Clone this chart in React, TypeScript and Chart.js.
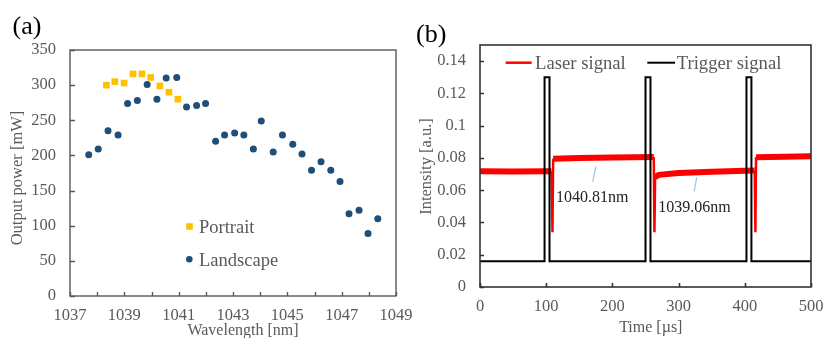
import React, { useEffect, useRef } from 'react';
import { Chart, registerables } from 'chart.js';

Chart.register(...registerables);

const FONT = '"Liberation Serif", "Times New Roman", serif';
const GRAY = '#595959';

// ---------- Panel (a): output power vs wavelength ----------
const landscapeWavelength = [1037.69, 1038.04, 1038.4, 1038.77, 1039.12, 1039.48, 1039.84, 1040.2, 1040.54, 1040.93, 1041.29, 1041.66, 1041.99, 1042.36, 1042.69, 1043.06, 1043.4, 1043.75, 1044.04, 1044.48, 1044.82, 1045.2, 1045.54, 1045.89, 1046.24, 1046.6, 1046.94, 1047.27, 1047.64, 1047.97, 1048.33];
const landscapePower = [201, 209, 235, 229, 274, 278, 301, 280, 310, 311, 269, 271, 274, 220, 229, 232, 229, 209, 249, 205, 229, 216, 202, 179, 191, 179, 163, 117, 122, 89, 110];
const portraitWavelength = [1038.34, 1038.65, 1038.99, 1039.32, 1039.65, 1039.97, 1040.31, 1040.64, 1040.97];
const portraitPower = [300, 305, 303, 316, 316, 311, 299, 290, 280];
const wavelengthRange = [1037, 1049];
const wavelengthTicks = [1037, 1038, 1039, 1040, 1041, 1042, 1043, 1044, 1045, 1046, 1047, 1048, 1049];
const powerRange = [0, 350];
const powerTicks = [0, 50, 100, 150, 200, 250, 300, 350];
const seriesNamesA = ['Portrait', 'Landscape'];
const axisTitlesA = ['Wavelength [nm]', 'Output power [mW]'];

// ---------- Panel (b): intensity vs time ----------
const laserTime = [0, 50, 100, 108, 109.5, 110.5, 150, 200, 262.5, 263.5, 264.5, 270, 300, 350, 400, 415, 416, 417, 460, 500];
const laserIntensity = [0.0717, 0.0716, 0.0717, 0.0717, 0.0339, 0.0795, 0.08, 0.0802, 0.0806, 0.0339, 0.068, 0.0695, 0.0707, 0.0714, 0.072, 0.0722, 0.0339, 0.0805, 0.0808, 0.081];
const triggerTime = [0, 97.5, 97.5, 105, 105, 250, 250, 257.5, 257.5, 402.5, 402.5, 410, 410, 500];
const triggerIntensity = [0.016, 0.016, 0.13, 0.13, 0.016, 0.016, 0.13, 0.13, 0.016, 0.016, 0.13, 0.13, 0.016, 0.016];
const timeRange = [0, 500];
const timeTicks = [0, 100, 200, 300, 400, 500];
const intensityRange = [0, 0.15];
const intensityTicks = [0, 0.02, 0.04, 0.06, 0.08, 0.1, 0.12, 0.14];
const seriesNamesB = ['Laser signal', 'Trigger signal'];
const axisTitlesB = ['Time [\u00b5s]', 'Intensity [a.u.]'];
const annotationText = ['1040.81nm', '1039.06nm'];
const annotationTextX = [114.8, 269.3];
const annotationTextY = [0.0529, 0.0462];
const leaderStartX = [174.8, 327.3];
const leaderStartY = [0.0745, 0.0679];
const leaderEndX = [170.2, 323.7];
const leaderEndY = [0.0652, 0.0594];

const toPoints = (xs: number[], ys: number[]) => xs.map((x, i) => ({ x, y: ys[i] }));
const setTicks = (values: number[]) => (s: any) => {
  s.ticks = values.map((v) => ({ value: v }));
};

const panelAPlugin = {
  id: 'panelA',
  afterDraw(chart: any) {
    const { ctx, chartArea: a, scales } = chart;
    const x = scales.x;
    const y = scales.y;
    ctx.save();
    ctx.strokeStyle = GRAY;
    ctx.lineWidth = 1.4;
    ctx.beginPath();
    x.ticks.forEach((t: any) => {
      const px = Math.round(x.getPixelForValue(t.value)) + 0.5;
      ctx.moveTo(px, a.bottom);
      ctx.lineTo(px, a.bottom - 4);
    });
    y.ticks.forEach((t: any) => {
      const py = Math.round(y.getPixelForValue(t.value)) + 0.5;
      ctx.moveTo(a.left, py);
      ctx.lineTo(a.left + 5, py);
    });
    ctx.stroke();
    ctx.strokeRect(a.left, a.top, a.right - a.left, a.bottom - a.top);

    // axis titles
    ctx.fillStyle = GRAY;
    ctx.font = `16px ${FONT}`;
    ctx.textAlign = 'center';
    ctx.textBaseline = 'alphabetic';
    ctx.fillText(axisTitlesA[0], 243, 334.5);
    ctx.save();
    ctx.translate(17.5, 178);
    ctx.rotate(-Math.PI / 2);
    ctx.font = `16.5px ${FONT}`;
    ctx.textBaseline = 'middle';
    ctx.fillText(axisTitlesA[1], 0, 0);
    ctx.restore();

    // panel label
    ctx.fillStyle = '#000';
    ctx.font = `26px ${FONT}`;
    ctx.textAlign = 'left';
    ctx.textBaseline = 'alphabetic';
    ctx.fillText('(a)', 12.5, 33.5);

    // legend
    ctx.fillStyle = '#FFC000';
    ctx.fillRect(186.2, 223.2, 6.6, 6.6);
    ctx.fillStyle = '#1F4E79';
    ctx.beginPath();
    ctx.arc(189.3, 259.3, 3.3, 0, Math.PI * 2);
    ctx.fill();
    ctx.fillStyle = GRAY;
    ctx.font = `18.5px ${FONT}`;
    ctx.fillText(seriesNamesA[0], 199, 233.3);
    ctx.fillText(seriesNamesA[1], 199, 266);
    ctx.restore();
  },
};

const panelBPlugin = {
  id: 'panelB',
  afterDraw(chart: any) {
    const { ctx, chartArea: a, scales } = chart;
    const x = scales.x;
    const y = scales.y;
    ctx.save();
    ctx.strokeStyle = '#333';
    ctx.lineWidth = 1.6;
    ctx.beginPath();
    x.ticks.forEach((t: any) => {
      const px = Math.round(x.getPixelForValue(t.value)) + 0.5;
      ctx.moveTo(px, a.bottom);
      ctx.lineTo(px, a.bottom - 4);
    });
    y.ticks.forEach((t: any) => {
      const py = Math.round(y.getPixelForValue(t.value)) + 0.5;
      ctx.moveTo(a.left, py);
      ctx.lineTo(a.left + 4, py);
    });
    ctx.stroke();
    ctx.strokeRect(a.left, a.top, a.right - a.left, a.bottom - a.top);

    // annotations
    ctx.strokeStyle = '#9DC3E6';
    ctx.lineWidth = 1.2;
    ctx.beginPath();
    for (let i = 0; i < annotationText.length; i++) {
      ctx.moveTo(x.getPixelForValue(leaderStartX[i]), y.getPixelForValue(leaderStartY[i]));
      ctx.lineTo(x.getPixelForValue(leaderEndX[i]), y.getPixelForValue(leaderEndY[i]));
    }
    ctx.stroke();
    ctx.fillStyle = '#222';
    ctx.font = `16px ${FONT}`;
    ctx.textAlign = 'left';
    ctx.textBaseline = 'alphabetic';
    for (let i = 0; i < annotationText.length; i++) {
      ctx.fillText(annotationText[i], x.getPixelForValue(annotationTextX[i]), y.getPixelForValue(annotationTextY[i]));
    }

    // legend
    ctx.lineWidth = 2.5;
    ctx.strokeStyle = '#FF0000';
    ctx.beginPath();
    ctx.moveTo(93.7, 62.7);
    ctx.lineTo(119.7, 62.7);
    ctx.stroke();
    ctx.strokeStyle = '#000';
    ctx.lineWidth = 2;
    ctx.beginPath();
    ctx.moveTo(235.3, 62.7);
    ctx.lineTo(263, 62.7);
    ctx.stroke();
    ctx.fillStyle = GRAY;
    ctx.font = `18.7px ${FONT}`;
    ctx.fillText(seriesNamesB[0], 123, 69);
    ctx.fillText(seriesNamesB[1], 264.7, 69);

    // axis titles
    ctx.font = `16px ${FONT}`;
    ctx.textAlign = 'center';
    ctx.fillText(axisTitlesB[0], 238.8, 331.7);
    ctx.save();
    ctx.translate(15, 166.5);
    ctx.rotate(-Math.PI / 2);
    ctx.font = `16.5px ${FONT}`;
    ctx.textBaseline = 'middle';
    ctx.fillText(axisTitlesB[1], 0, 0);
    ctx.restore();

    // panel label
    ctx.fillStyle = '#000';
    ctx.font = `26px ${FONT}`;
    ctx.textAlign = 'left';
    ctx.textBaseline = 'alphabetic';
    ctx.fillText('(b)', 4, 42);
    ctx.restore();
  },
};

const tickFont = { family: FONT, size: 16.5 };

function PanelA() {
  const ref = useRef<HTMLCanvasElement>(null);
  useEffect(() => {
    const chart = new Chart(ref.current!, {
      type: 'scatter',
      data: {
        datasets: [
          {
            label: seriesNamesA[0],
            data: toPoints(portraitWavelength, portraitPower),
            pointStyle: 'rect',
            pointRadius: 4.7,
            pointBackgroundColor: '#FFC000',
            pointBorderWidth: 0,
            borderColor: '#FFC000',
            backgroundColor: '#FFC000',
          },
          {
            label: seriesNamesA[1],
            data: toPoints(landscapeWavelength, landscapePower),
            pointStyle: 'circle',
            pointRadius: 3.5,
            pointBackgroundColor: '#1F4E79',
            pointBorderWidth: 0,
            borderColor: '#1F4E79',
            backgroundColor: '#1F4E79',
          },
        ],
      },
      options: {
        responsive: false,
        animation: false,
        events: [],
        layout: { padding: { top: 50, right: 16, left: 0, bottom: 0 } },
        plugins: { legend: { display: false }, tooltip: { enabled: false } },
        scales: {
          x: {
            type: 'linear',
            min: wavelengthRange[0],
            max: wavelengthRange[1],
            afterBuildTicks: setTicks(wavelengthTicks),
            grid: { display: false, drawTicks: false },
            border: { display: false },
            ticks: {
              autoSkip: false,
              maxRotation: 0,
              padding: 10,
              color: GRAY,
              font: tickFont,
              callback: (v: any) => (Number(v) % 2 === 1 ? String(v) : ''),
            },
            afterFit: (s: any) => {
              s.height = 42;
              s.paddingLeft = 0;
              s.paddingRight = 0;
            },
          },
          y: {
            type: 'linear',
            min: powerRange[0],
            max: powerRange[1],
            afterBuildTicks: setTicks(powerTicks),
            grid: { display: false, drawTicks: false },
            border: { display: false },
            ticks: { padding: 14, color: GRAY, font: tickFont },
            afterFit: (s: any) => {
              s.width = 70;
              s.paddingTop = 0;
              s.paddingBottom = 0;
            },
          },
        },
      },
      plugins: [panelAPlugin],
    } as any);
    return () => chart.destroy();
  }, []);
  return <canvas ref={ref} width={412} height={338} style={{ position: 'absolute', left: 0, top: 0, width: 412, height: 338 }} />;
}

function PanelB() {
  const ref = useRef<HTMLCanvasElement>(null);
  useEffect(() => {
    const chart = new Chart(ref.current!, {
      type: 'scatter',
      data: {
        datasets: [
          {
            label: seriesNamesB[0],
            data: toPoints(laserTime, laserIntensity),
            showLine: true,
            pointRadius: 0,
            borderColor: '#FF0000',
            backgroundColor: '#FF0000',
            borderWidth: 6,
            borderCapStyle: 'butt',
            borderJoinStyle: 'miter',
            order: 2,
            segment: {
              borderWidth: (c: any) => (Math.abs(c.p1.parsed.x - c.p0.parsed.x) < 2 ? 2.5 : 6),
            },
          },
          {
            label: seriesNamesB[1],
            data: toPoints(triggerTime, triggerIntensity),
            showLine: true,
            pointRadius: 0,
            borderColor: '#000000',
            backgroundColor: '#000000',
            borderWidth: 2,
            borderJoinStyle: 'miter',
            order: 1,
          },
        ],
      },
      options: {
        responsive: false,
        animation: false,
        events: [],
        layout: { padding: { top: 45, right: 13, left: 0, bottom: 0 } },
        plugins: { legend: { display: false }, tooltip: { enabled: false } },
        scales: {
          x: {
            type: 'linear',
            min: timeRange[0],
            max: timeRange[1],
            afterBuildTicks: setTicks(timeTicks),
            grid: { display: false, drawTicks: false },
            border: { display: false },
            ticks: { autoSkip: false, maxRotation: 0, padding: 10, color: GRAY, font: tickFont },
            afterFit: (s: any) => {
              s.height = 51;
              s.paddingLeft = 0;
              s.paddingRight = 0;
            },
          },
          y: {
            type: 'linear',
            min: intensityRange[0],
            max: intensityRange[1],
            afterBuildTicks: setTicks(intensityTicks),
            grid: { display: false, drawTicks: false },
            border: { display: false },
            ticks: {
              autoSkip: false,
              padding: 14,
              color: GRAY,
              font: tickFont,
              callback: (v: any) => String(Math.round(Number(v) * 100) / 100),
            },
            afterFit: (s: any) => {
              s.width = 68;
              s.paddingTop = 0;
              s.paddingBottom = 0;
            },
          },
        },
      },
      plugins: [panelBPlugin],
    } as any);
    return () => chart.destroy();
  }, []);
  return <canvas ref={ref} width={412} height={338} style={{ position: 'absolute', left: 412, top: 0, width: 412, height: 338 }} />;
}

export default function App() {
  return (
    <div style={{ position: 'fixed', left: 0, top: 0, width: 824, height: 338, background: '#fff', overflow: 'hidden' }}>
      <PanelA />
      <PanelB />
    </div>
  );
}
